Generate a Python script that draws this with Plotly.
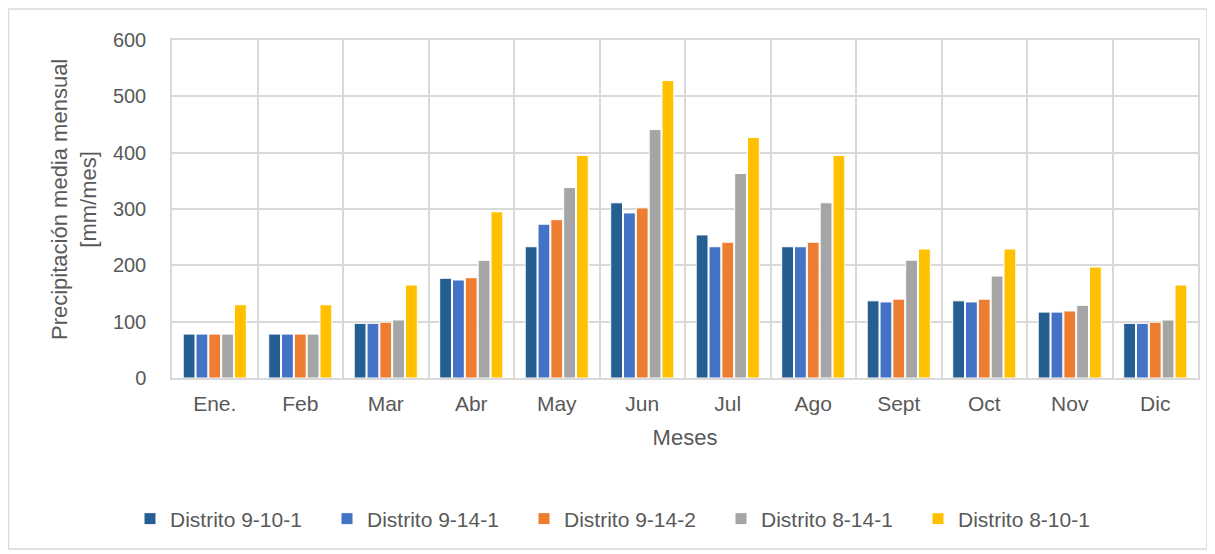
import plotly.graph_objects as go

months = ["Ene.", "Feb", "Mar", "Abr", "May", "Jun", "Jul", "Ago", "Sept", "Oct", "Nov", "Dic"]
series_names = ["Distrito 9-10-1", "Distrito 9-14-1", "Distrito 9-14-2", "Distrito 8-14-1", "Distrito 8-10-1"]
d_9_10_1 = [78, 78, 97, 177, 233, 311, 254, 233, 137, 137, 117, 97]
d_9_14_1 = [78, 78, 97, 174, 273, 293, 233, 233, 135, 135, 117, 97]
d_9_14_2 = [78, 78, 99, 178, 281, 302, 241, 241, 140, 140, 119, 99]
d_8_14_1 = [78, 78, 103, 209, 338, 441, 363, 311, 209, 181, 129, 103]
d_8_10_1 = [130, 130, 165, 295, 395, 528, 427, 395, 229, 229, 197, 165]
colors = ["#255E91", "#4472C4", "#ED7D31", "#A5A5A5", "#FFC000"]
y_ticks = [0, 100, 200, 300, 400, 500, 600]

FONT = "Liberation Sans"
TXT = "#595959"
OFF = 8  # page body offset

# plot area in window pixels
PL, PR, PT, PB = 172, 1198, 40, 378
PW, PH = PR - PL, PB - PT

def px(x):
    return (x - PL) / PW

def py(y):
    return (PB - y) / PH

fig = go.Figure()
for name, vals, col in zip(series_names, [d_9_10_1, d_9_14_1, d_9_14_2, d_8_14_1, d_8_10_1], colors):
    fig.add_trace(go.Bar(x=months, y=vals, name=name,
                         marker=dict(color=col, line=dict(color="white", width=1))))

fig.update_layout(
    width=1215, height=554,
    margin=dict(l=PL - OFF, r=1215 - PR + OFF, t=PT - OFF, b=554 - PB + OFF),
    paper_bgcolor="white", plot_bgcolor="white",
    barmode="group", bargap=0.25, bargroupgap=0.08,
    font=dict(family=FONT, color=TXT, size=20),
    showlegend=True,
    legend=dict(orientation="h", x=px(130), xanchor="left", y=py(519), yanchor="middle",
                font=dict(size=21, color=TXT), traceorder="normal",
                entrywidth=152, entrywidthmode="pixels", itemwidth=30),
    xaxis=dict(tickson="boundaries", showgrid=True, gridcolor="#D9D9D9", gridwidth=1.5,
               showline=True, linecolor="#D9D9D9", linewidth=1.5, mirror=True,
               ticks="", tickfont=dict(size=21, color=TXT), ticklabelstandoff=6,
               title=dict(text="Meses", font=dict(size=22, color=TXT), standoff=16)),
    yaxis=dict(range=[0, 600], tickvals=y_ticks, showgrid=True, gridcolor="#D9D9D9", gridwidth=1.5,
               zeroline=False, showline=True, linecolor="#D9D9D9", linewidth=1.5, mirror=True,
               ticks="", ticklabelstandoff=20, tickfont=dict(size=20, color=TXT)),
    annotations=[dict(text="Precipitación media mensual<br>[mm/mes]", textangle=-90,
                      xref="paper", yref="paper", x=px(74), y=py(200), xanchor="center", yanchor="middle",
                      showarrow=False, font=dict(size=22, color=TXT))],
    shapes=[dict(type="rect", xref="paper", yref="paper",
                 x0=px(8.5), x1=px(1207), y0=py(549), y1=py(9),
                 line=dict(color="#D9D9D9", width=1.5), fillcolor="rgba(0,0,0,0)", layer="below")],
)

fig.write_html("out.html")
